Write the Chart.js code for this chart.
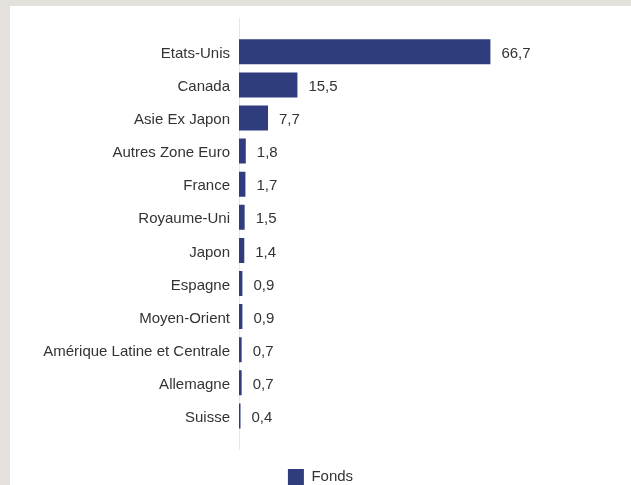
<!DOCTYPE html>
<html>
<head>
<meta charset="utf-8">
<script src="https://cdn.jsdelivr.net/npm/chart.js@4.4.1/dist/chart.umd.min.js"></script>
<style>
  html, body { margin: 0; padding: 0; width: 631px; height: 485px; overflow: hidden; background: #e4e0dc; }
  #panel { position: absolute; left: 10px; top: 6px; width: 621px; height: 489px; background: #ffffff; }
  #c { display: block; }
</style>
</head>
<body>
<div id="panel"><canvas id="c" width="621" height="489"></canvas></div>
<script>
const categories = ["Etats-Unis", "Canada", "Asie Ex Japon", "Autres Zone Euro", "France", "Royaume-Uni", "Japon", "Espagne", "Moyen-Orient", "Amérique Latine et Centrale", "Allemagne", "Suisse"];
const fondsValues = [66.7, 15.5, 7.7, 1.8, 1.7, 1.5, 1.4, 0.9, 0.9, 0.7, 0.7, 0.4];
const seriesName = "Fonds";

const textColor = "#333333";
const barColor = "#2f3d7e";
const fontFamily = "'Liberation Sans', Arial, sans-serif";

// position of each category on the (linear) category axis: 1..n
const points = fondsValues.map((v, i) => ({ x: v, y: i + 1 }));

const valueLabels = {
  id: "valueLabels",
  afterDatasetsDraw(chart) {
    const ctx = chart.ctx;
    const meta = chart.getDatasetMeta(0);
    ctx.save();
    ctx.font = "15px " + fontFamily;
    ctx.fillStyle = textColor;
    ctx.textAlign = "left";
    ctx.textBaseline = "middle";
    meta.data.forEach((bar, i) => {
      ctx.fillText(fondsValues[i].toFixed(1).replace(".", ","), bar.x + 11, bar.y + 2);
    });
    ctx.restore();
  }
};

new Chart(document.getElementById("c"), {
  type: "bar",
  data: {
    datasets: [{
      label: seriesName,
      data: points,
      backgroundColor: barColor,
      borderWidth: 0,
      categoryPercentage: 1,
      barPercentage: 0.755
    }]
  },
  options: {
    indexAxis: "y",
    responsive: false,
    animation: false,
    devicePixelRatio: 1,
    layout: { padding: { top: 12.7, right: 0, bottom: 0, left: 0 } },
    plugins: {
      legend: {
        position: "bottom",
        labels: {
          color: textColor,
          font: { family: fontFamily, size: 15 },
          boxWidth: 16,
          boxHeight: 16,
          padding: 20
        }
      },
      tooltip: { enabled: false }
    },
    scales: {
      x: {
        type: "linear",
        display: false,
        min: 0,
        max: 104
      },
      y: {
        type: "linear",
        reverse: true,
        offset: false,
        min: 0,
        max: categories.length + 1,
        afterFit(scale) { scale.width = 229; scale.paddingTop = 0; scale.paddingBottom = 0; },
        grid: { display: false, drawTicks: false },
        border: { display: true, color: "#e6e6e6", width: 1 },
        ticks: {
          color: textColor,
          font: { family: fontFamily, size: 15 },
          padding: 9,
          labelOffset: 2,
          stepSize: 1,
          maxTicksLimit: 30,
          autoSkip: false,
          callback(value) {
            const i = value - 1;
            return (i >= 0 && i < categories.length) ? categories[i] : "";
          }
        }
      }
    }
  },
  plugins: [valueLabels]
});
</script>
</body>
</html>
